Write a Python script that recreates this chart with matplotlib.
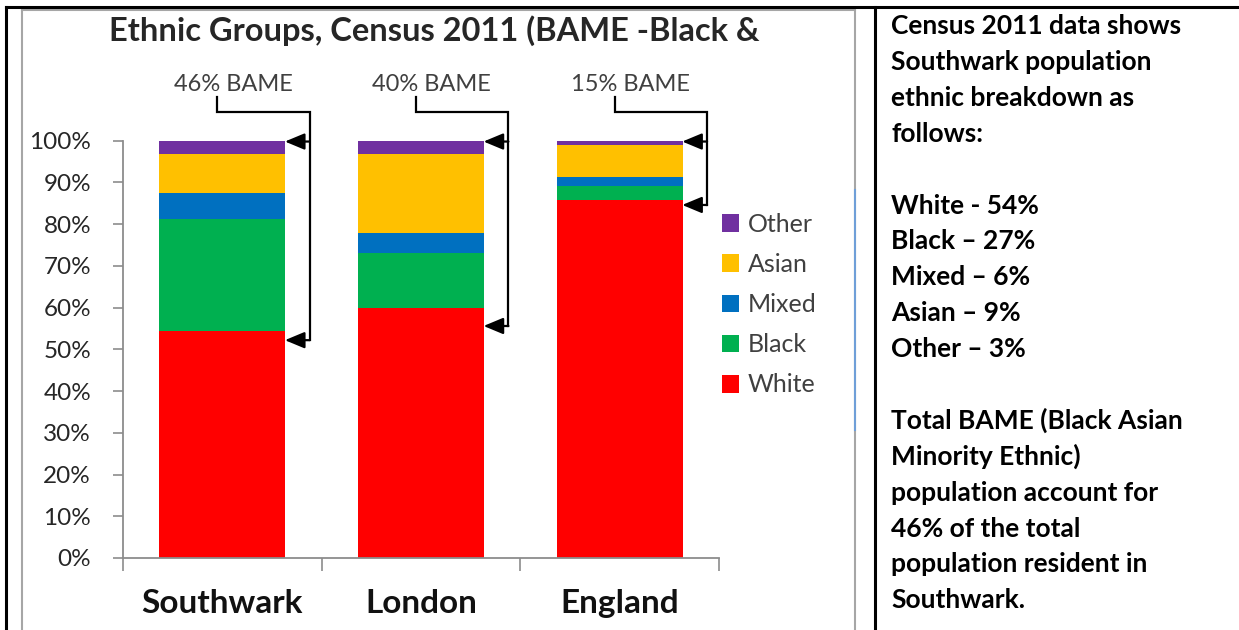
import matplotlib
matplotlib.use("Agg")
import matplotlib.pyplot as plt
from matplotlib.lines import Line2D
import numpy as np

# Data (share of population, 0..1)
areas = ["Southwark", "London", "England"]
groups = ["White", "Black", "Mixed", "Asian", "Other"]
white = [0.543, 0.598, 0.858]
black = [0.270, 0.132, 0.033]
mixed = [0.061, 0.049, 0.021]
asian = [0.094, 0.189, 0.078]
other = [0.032, 0.032, 0.010]
colors = ["#FF0000", "#00B050", "#0070C0", "#FFC000", "#7030A0"]

bame_labels = ["46% BAME", "40% BAME", "15% BAME"]
arrow_low = [0.522, 0.556, 0.846]   # where the lower bracket arrows point

yticks = [0, 0.1, 0.2, 0.3, 0.4, 0.5, 0.6, 0.7, 0.8, 0.9, 1.0]
ytick_labels = ["0%", "10%", "20%", "30%", "40%", "50%", "60%", "70%", "80%", "90%", "100%"]

side_lines = [
    "Census 2011 data shows",
    "Southwark population",
    "ethnic breakdown as",
    "follows:",
    "",
    "White - 54%",
    "Black \u2013 27%",
    "Mixed \u2013 6%",
    "Asian \u2013 9%",
    "Other \u2013 3%",
    "",
    "Total BAME (Black Asian",
    "Minority Ethnic)",
    "population account for",
    "46% of the total",
    "population resident in",
    "Southwark.",
]

plt.rcParams["font.family"] = ["Lato", "DejaVu Sans"]

W, H = 1239, 630
fig = plt.figure(figsize=(W / 100, H / 100), dpi=100)

def fx(px):
    return px / W

def fy(py):
    return 1 - py / H

# main chart axes
ax = fig.add_axes([fx(123), fy(558), fx(719) - fx(123), fy(140.7) - fy(558)])
x = np.arange(len(areas))
series = [white, black, mixed, asian, other]
bottom = np.zeros(len(areas))
for vals, name, col in zip(series, groups, colors):
    ax.bar(x, vals, width=0.635, bottom=bottom, color=col, label=name, zorder=2)
    bottom += np.array(vals)

ax.set_xlim(-0.5, 2.5)
ax.set_ylim(0, 1)
for s in ["top", "right"]:
    ax.spines[s].set_visible(False)
for s in ["left", "bottom"]:
    ax.spines[s].set_color("#8c8c8c")
    ax.spines[s].set_linewidth(1.3)

ax.set_yticks(yticks)
ax.set_yticklabels(ytick_labels, fontsize=17.5, color="#262626")
ax.tick_params(axis="y", direction="out", length=7, width=1.2, color="#8c8c8c", pad=16)

ax.set_xticks(x)
ax.set_xticklabels(areas, fontsize=24, fontweight="bold", color="#111111")
ax.set_xticks([-0.5, 0.5, 1.5, 2.5], minor=True)
ax.tick_params(axis="x", which="major", length=0, pad=22)
ax.tick_params(axis="x", which="minor", direction="out", length=9, width=1.2, color="#8c8c8c")

# BAME brackets with arrows
for i, lab in enumerate(bame_labels):
    xv = i + 0.44
    xd = i - 0.025
    ax.text(i + 0.055, 1.12, lab, ha="center", va="baseline", fontsize=17,
            color="#404040", clip_on=False)
    ax.plot([xd, xd, xv, xv], [1.105, 1.069, 1.069, arrow_low[i]],
            color="black", lw=1.6, clip_on=False, solid_joinstyle="miter")
    for ya in [0.998, arrow_low[i]]:
        ax.annotate("", xy=(i + 0.315, ya), xytext=(xv, ya),
                    arrowprops=dict(arrowstyle="-|>,head_length=1.2,head_width=0.5",
                                    color="black", lw=1.6, shrinkA=0, shrinkB=0),
                    annotation_clip=False)

# legend (reversed order, Other on top)
h, l = ax.get_legend_handles_labels()
leg = ax.legend(h[::-1], l[::-1], loc="upper left",
                bbox_to_anchor=(fx(699), fy(190)), bbox_transform=fig.transFigure,
                frameon=False, fontsize=18, handlelength=0.7, handleheight=0.7,
                handletextpad=0.35, labelspacing=0.69)
for t in leg.get_texts():
    t.set_color("#404040")

# title (cut off like in the original)
fig.text(fx(434), fy(41), "Ethnic Groups, Census 2011 (BAME -Black &",
         ha="center", va="baseline", fontsize=23.5, fontweight="bold", color="#262626")

# chart frame (grey) and table borders (black)
grey = "#a6a6a6"
fig.add_artist(Line2D([fx(22), fx(22)], [fy(10), fy(630)], color=grey, lw=1.5))
fig.add_artist(Line2D([fx(22), fx(855)], [fy(10), fy(10)], color=grey, lw=1.5))
fig.add_artist(Line2D([fx(855), fx(855)], [fy(10), fy(630)], color=grey, lw=1.5))
fig.add_artist(Line2D([fx(855), fx(855)], [fy(190), fy(430)], color="#6f9fd8", lw=1.5))

fig.add_artist(Line2D([fx(6), fx(1239)], [fy(7), fy(7)], color="black", lw=2.2))
fig.add_artist(Line2D([fx(6), fx(6)], [fy(7), fy(630)], color="black", lw=2.2))
fig.add_artist(Line2D([fx(875), fx(875)], [fy(7), fy(630)], color="black", lw=2.2))

# side text
for k, line in enumerate(side_lines):
    if line:
        fig.text(fx(891), fy(34 + k * 35.9), line, ha="left", va="baseline",
                 fontsize=19, fontweight="bold", color="black")

fig.savefig("out.png", dpi=100)
